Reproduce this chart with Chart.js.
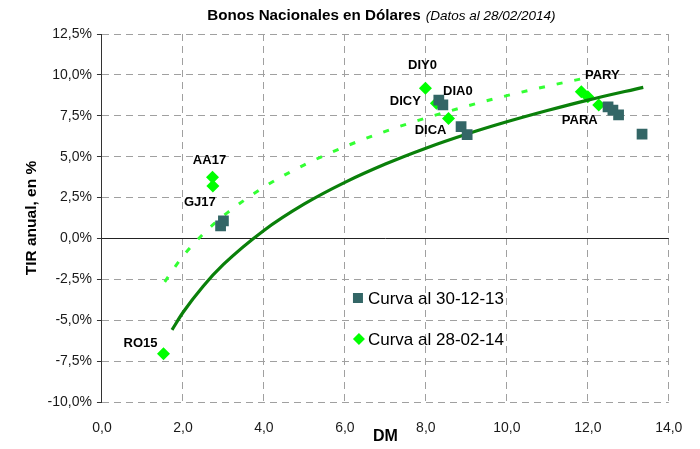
<!DOCTYPE html>
<html lang="es">
<head>
<meta charset="utf-8">
<script src="https://cdn.jsdelivr.net/npm/chart.js@4.4.1/dist/chart.umd.min.js"></script>
<style>
  body { margin: 0; background: #fff; }
  #wrap { width: 700px; height: 449px; }
</style>
</head>
<body>
<div id="wrap"><canvas id="bonos-chart"></canvas></div>
<script>
  // Curva al 30-12-13 (cuadrados)
  var bonosDic = ['', '', 'DIA0', '', '', '', '', '', '', ''];
  var dmDic  = [2.93, 3.00, 8.32, 8.42, 8.87, 9.02, 12.50, 12.62, 12.76, 13.34];
  var tirDic = [0.77, 1.07, 8.46, 8.16, 6.83, 6.35, 8.05, 7.85, 7.55, 6.38];

  // Curva al 28-02-14 (rombos)
  var bonosFeb = ['RO15', 'AA17', 'GJ17', 'DIY0', 'DICY', 'DICA', 'PARY', '', 'PARA'];
  var dmFeb  = [1.52, 2.73, 2.74, 7.99, 8.26, 8.56, 11.84, 12.00, 12.27];
  var tirFeb = [-7.05, 3.74, 3.21, 9.18, 8.27, 7.34, 8.97, 8.67, 8.16];

  // lineas de tendencia
  var dmTendDic  = [1.73, 2, 2.5, 3, 4, 5, 6, 7, 8, 9, 10, 11, 12, 13.37];
  var tirTendDic = [-5.59, -4.53, -2.92, -1.59, 0.49, 2.11, 3.43, 4.55, 5.52, 6.37, 7.13, 7.82, 8.46, 9.24];
  var dmTendFeb  = [1.55, 2, 2.5, 3, 4, 5, 6, 7, 8, 9, 10, 11, 11.85];
  var tirTendFeb = [-2.65, -1.09, 0.27, 1.38, 3.14, 4.50, 5.61, 6.55, 7.36, 8.08, 8.73, 9.31, 9.76];

  // ejes
  var xTicks = [0, 2, 4, 6, 8, 10, 12, 14];
  var yTicks = [-10, -7.5, -5, -2.5, 0, 2.5, 5, 7.5, 10, 12.5];

  var serieNames = ['Curva al 30-12-13', 'Curva al 28-02-14'];

  // desplazamiento de las etiquetas respecto del punto (px)
  var labelOffsets = {
    RO15: [-23, -10], AA17: [-3, -17], GJ17: [-13, 16], DIY0: [-3, -23],
    DICY: [-31, -2], DICA: [-18, 12], PARY: [21, -16], PARA: [-19, 15], DIA0: [19, -9]
  };

  var FONT = '"Liberation Sans", Arial, sans-serif';
  var SQ_COLOR = '#336666';
  var DI_COLOR = '#00ff00';

  function toPoints(xs, ys) {
    return xs.map(function (x, i) { return {x: x, y: ys[i]}; });
  }
  function coma(v, dec) {
    return v.toFixed(dec).replace('.', ',');
  }

  var extras = {
    id: 'extras',
    beforeDatasetsDraw: function (chart) {
      // eje en 0%
      var ctx = chart.ctx, a = chart.chartArea;
      var y0 = Math.round(chart.scales.y.getPixelForValue(0)) + 0.5;
      ctx.save();
      ctx.strokeStyle = '#222';
      ctx.lineWidth = 1;
      ctx.beginPath();
      ctx.moveTo(a.left, y0);
      ctx.lineTo(a.right, y0);
      ctx.stroke();
      ctx.restore();
    },
    afterDraw: function (chart) {
      var ctx = chart.ctx, a = chart.chartArea;
      ctx.save();

      // titulo
      var t1 = 'Bonos Nacionales en Dólares', t2 = '(Datos al 28/02/2014)';
      ctx.fillStyle = '#000';
      ctx.textBaseline = 'middle';
      ctx.font = 'bold 15.2px ' + FONT;
      var w1 = ctx.measureText(t1).width;
      ctx.font = 'italic 13.5px ' + FONT;
      var w2 = ctx.measureText(t2).width;
      var cx = (a.left + a.right) / 2 - 4;
      var sx = cx - (w1 + 5 + w2) / 2;
      ctx.font = 'bold 15.2px ' + FONT;
      ctx.textAlign = 'left';
      ctx.fillText(t1, sx, 16);
      ctx.font = 'italic 13.5px ' + FONT;
      ctx.fillText(t2, sx + w1 + 5, 16);

      // etiquetas de bonos
      ctx.font = 'bold 13px ' + FONT;
      ctx.textAlign = 'center';
      [[0, bonosDic], [3, bonosFeb]].forEach(function (d) {
        var meta = chart.getDatasetMeta(d[0]);
        d[1].forEach(function (name, i) {
          if (!name) return;
          var p = meta.data[i], off = labelOffsets[name];
          ctx.fillText(name, p.x + off[0], p.y + off[1]);
        });
      });

      // leyenda
      var lx = a.left + 256, ly1 = a.top + 264, ly2 = a.top + 305;
      ctx.fillStyle = SQ_COLOR;
      ctx.fillRect(lx - 5, ly1 - 5, 10, 10);
      ctx.fillStyle = DI_COLOR;
      ctx.beginPath();
      ctx.moveTo(lx + 1, ly2 - 6);
      ctx.lineTo(lx + 7, ly2);
      ctx.lineTo(lx + 1, ly2 + 6);
      ctx.lineTo(lx - 5, ly2);
      ctx.closePath();
      ctx.fill();
      ctx.fillStyle = '#000';
      ctx.font = '17px ' + FONT;
      ctx.textAlign = 'left';
      ctx.fillText(serieNames[0], lx + 10, ly1 + 1);
      ctx.fillText(serieNames[1], lx + 10, ly2 + 1);
      ctx.restore();
    }
  };

  new Chart(document.getElementById('bonos-chart'), {
    type: 'scatter',
    data: {
      datasets: [
        {
          label: serieNames[0],
          data: toPoints(dmDic, tirDic),
          pointStyle: 'rect',
          pointRadius: 7.6,
          pointBackgroundColor: SQ_COLOR,
          pointBorderWidth: 0,
          order: 0
        },
        {
          label: 'Tendencia 30-12-13',
          data: toPoints(dmTendDic, tirTendDic),
          showLine: true,
          borderColor: '#0a800a',
          borderWidth: 3.2,
          pointRadius: 0,
          cubicInterpolationMode: 'monotone',
          order: 1
        },
        {
          label: 'Tendencia 28-02-14',
          data: toPoints(dmTendFeb, tirTendFeb),
          showLine: true,
          borderColor: '#33ff33',
          borderWidth: 3,
          borderDash: [6, 12],
          pointRadius: 0,
          cubicInterpolationMode: 'monotone',
          order: 2
        },
        {
          label: serieNames[1],
          data: toPoints(dmFeb, tirFeb),
          pointStyle: 'rectRot',
          pointRadius: 6.5,
          pointBackgroundColor: DI_COLOR,
          pointBorderWidth: 0,
          order: 3
        }
      ]
    },
    options: {
      responsive: true,
      maintainAspectRatio: false,
      animation: false,
      events: [],
      layout: { padding: { left: 10, right: 31, top: 34, bottom: 0 } },
      plugins: {
        legend: { display: false },
        tooltip: { enabled: false }
      },
      scales: {
        x: {
          type: 'linear',
          min: xTicks[0],
          max: xTicks[xTicks.length - 1],
          ticks: {
            stepSize: 2,
            padding: 17.6,
            color: '#1a1a1a',
            font: { family: FONT, size: 14 },
            callback: function (v) { return coma(v, 1); }
          },
          grid: { color: '#a0a0a0', drawTicks: false },
          border: { display: false, dash: [7, 5] },
          title: {
            display: true,
            text: 'DM',
            color: '#000',
            font: { family: FONT, size: 16, weight: 'bold' },
            padding: { top: -26.6, bottom: 2.4 }
          }
        },
        y: {
          type: 'linear',
          min: yTicks[0],
          max: yTicks[yTicks.length - 1],
          ticks: {
            stepSize: 2.5,
            padding: 5,
            color: '#1a1a1a',
            font: { family: FONT, size: 14 },
            callback: function (v) { return coma(v, 1) + '%'; }
          },
          grid: { color: '#a0a0a0', tickLength: 5, tickColor: '#333' },
          border: { display: true, color: '#333', width: 1, dash: [7, 5] },
          title: {
            display: true,
            text: 'TIR anual, en %',
            color: '#000',
            font: { family: FONT, size: 15.5, weight: 'bold' },
            padding: { top: 12.4, bottom: 1.6 }
          }
        }
      }
    },
    plugins: [extras]
  });
</script>
</body>
</html>
